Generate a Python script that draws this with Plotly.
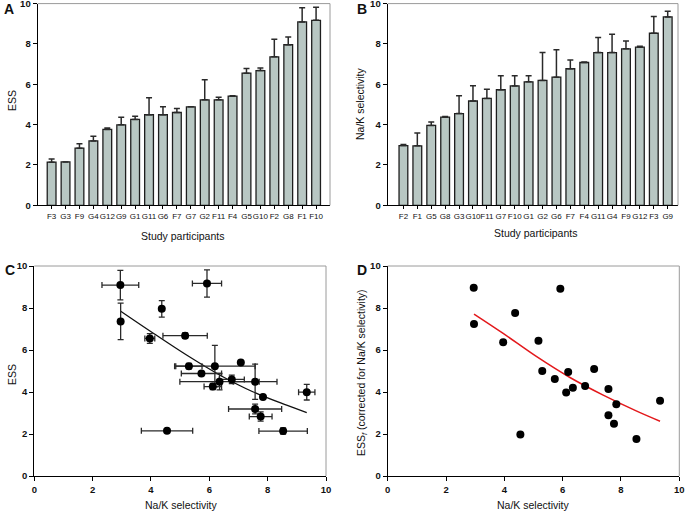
import plotly.graph_objects as go

# ---------------- data ----------------
# Panel A: ESS per participant, sorted ascending
ess_order = ["F3", "G3", "F9", "G4", "G12", "G9", "G1", "G11", "G6", "F7",
             "G7", "G2", "F11", "F4", "G5", "G10", "F2", "G8", "F1", "F10"]
ess_mean = [2.14, 2.15, 2.83, 3.19, 3.76, 3.99, 4.26, 4.49, 4.49, 4.60,
            4.88, 5.23, 5.23, 5.41, 6.55, 6.68, 7.36, 7.96, 9.09, 9.17]
ess_err = [0.15, 0.0, 0.22, 0.23, 0.07, 0.37, 0.15, 0.84, 0.39, 0.20,
           0.0, 0.99, 0.13, 0.02, 0.23, 0.13, 0.87, 0.39, 0.70, 0.65]

# Panel B: Na/K selectivity per participant, sorted ascending
nak_order = ["F2", "F1", "G5", "G8", "G3", "G10", "F11", "G7", "F10", "G1",
             "G2", "G6", "F7", "F4", "G11", "G4", "F9", "G12", "F3", "G9"]
nak_mean = [2.96, 2.95, 3.96, 4.37, 4.55, 5.17, 5.30, 5.73, 5.92, 6.12,
            6.19, 6.35, 6.77, 7.08, 7.57, 7.57, 7.76, 7.84, 8.53, 9.34]
nak_err = [0.05, 0.63, 0.17, 0.03, 0.88, 0.76, 0.45, 0.69, 0.50, 0.30,
           1.38, 1.36, 0.43, 0.02, 0.75, 0.91, 0.39, 0.05, 0.83, 0.28]

# Panel D: corrected ESS (ESS_f), in nak_order
ess_f = [7.24, 8.97, 6.37, 7.76, 1.98, 6.44, 5.00, 4.62, 8.92, 3.98,
         4.95, 4.20, 4.29, 5.10, 4.14, 2.89, 2.49, 3.42, 1.76, 3.58]

# fitted curves
c_fit_x = [2.95, 4.08, 5.22, 6.37, 7.51, 8.65, 9.34]
c_fit_y = [7.86, 6.80, 5.76, 4.80, 4.00, 3.37, 3.02]
d_fit_x = [2.96, 3.96, 5.11, 6.25, 7.39, 8.54, 9.34]
d_fit_y = [7.71, 6.79, 5.68, 4.69, 3.85, 3.09, 2.61]

num_ticks = [0, 2, 4, 6, 8, 10]

# ---------------- build ----------------
W, H = 685, 513
FONT = "Liberation Sans, Arial, Helvetica, sans-serif"
BAR_FILL = "#b8c7c3"
ERR_COL = "#2a2a2a"


def px_x(p):
    return p / W


def px_y(p):
    return 1 - p / H


# C data: pair ESS with Na/K by participant
ess_lookup = {p: (m, e) for p, m, e in zip(ess_order, ess_mean, ess_err)}
c_x = nak_mean
c_xerr = nak_err
c_y = [ess_lookup[p][0] for p in nak_order]
c_yerr = [ess_lookup[p][1] for p in nak_order]

fig = go.Figure()

fig.add_trace(go.Bar(
    x=ess_order, y=ess_mean, xaxis="x", yaxis="y",
    marker=dict(color=BAR_FILL, line=dict(color="#1e1e1e", width=1.3)),
    error_y=dict(type="data", array=ess_err, arrayminus=[0] * len(ess_err),
                 symmetric=False, color=ERR_COL, thickness=1.5, width=3),
    showlegend=False,
))
fig.add_trace(go.Bar(
    x=nak_order, y=nak_mean, xaxis="x2", yaxis="y2",
    marker=dict(color=BAR_FILL, line=dict(color="#1e1e1e", width=1.3)),
    error_y=dict(type="data", array=nak_err, arrayminus=[0] * len(nak_err),
                 symmetric=False, color=ERR_COL, thickness=1.5, width=3),
    showlegend=False,
))
fig.add_trace(go.Scatter(
    x=c_fit_x, y=c_fit_y, xaxis="x3", yaxis="y3", mode="lines",
    line=dict(color="#111", width=1.3, shape="spline"), showlegend=False,
))
fig.add_trace(go.Scatter(
    x=c_x, y=c_y, xaxis="x3", yaxis="y3", mode="markers",
    marker=dict(color="black", size=8),
    error_x=dict(type="data", array=c_xerr, color=ERR_COL, thickness=1.3, width=3),
    error_y=dict(type="data", array=c_yerr, color=ERR_COL, thickness=1.3, width=3),
    showlegend=False,
))
fig.add_trace(go.Scatter(
    x=d_fit_x, y=d_fit_y, xaxis="x4", yaxis="y4", mode="lines",
    line=dict(color="#e3191c", width=1.5, shape="spline"), showlegend=False,
))
fig.add_trace(go.Scatter(
    x=nak_mean, y=ess_f, xaxis="x4", yaxis="y4", mode="markers",
    marker=dict(color="black", size=8), showlegend=False,
))

tickfont_num = dict(family=FONT, size=9.5, color="#111", weight="bold")
tickfont_cat = dict(family=FONT, size=8, color="#111")

common = dict(showline=True, linecolor="black", linewidth=1.2, ticks="outside",
              tickcolor="black", tickwidth=1, showgrid=False, zeroline=False,
              automargin=False, ticklabeloverflow="allow")

domA_x = [px_x(37.7), px_x(330)]
domB_x = [px_x(387.7), px_x(678)]
domC_x = [px_x(34.3), px_x(326)]
domD_x = [px_x(387.7), px_x(679.3)]
dom_top_y = [px_y(205.3), px_y(3.6)]
dom_bot_y = [px_y(476), px_y(266)]

fig.update_layout(
    width=W, height=H,
    margin=dict(l=0, r=0, t=0, b=0, autoexpand=False),
    paper_bgcolor="white", plot_bgcolor="white",
    bargap=0.37,
    font=dict(family=FONT, color="#111"),
    xaxis=dict(domain=domA_x, anchor="y", type="category", range=[-1, 20],
               tickfont=tickfont_cat, tickangle=0, ticklen=3, **common),
    yaxis=dict(domain=dom_top_y, anchor="x", range=[0, 10], tickvals=num_ticks,
               tickfont=tickfont_num, ticklen=4, **common),
    xaxis2=dict(domain=domB_x, anchor="y2", type="category", range=[-1.13, 19.74],
                tickfont=tickfont_cat, tickangle=0, ticklen=3, **common),
    yaxis2=dict(domain=dom_top_y, anchor="x2", range=[0, 10], tickvals=num_ticks,
                tickfont=tickfont_num, ticklen=4, **common),
    xaxis3=dict(domain=domC_x, anchor="y3", range=[0, 10], tickvals=num_ticks,
                tickfont=tickfont_num, ticklen=4, **common),
    yaxis3=dict(domain=dom_bot_y, anchor="x3", range=[0, 10], tickvals=num_ticks,
                tickfont=tickfont_num, ticklen=4, **common),
    xaxis4=dict(domain=domD_x, anchor="y4", range=[0, 10], tickvals=num_ticks,
                tickfont=tickfont_num, ticklen=4, **common),
    yaxis4=dict(domain=dom_bot_y, anchor="x4", range=[0, 10], tickvals=num_ticks,
                tickfont=tickfont_num, ticklen=4, **common),
)

# gray top/right frame lines
shapes = []
for xd, yd in [(domA_x, dom_top_y), (domB_x, dom_top_y),
               (domC_x, dom_bot_y), (domD_x, dom_bot_y)]:
    shapes.append(dict(type="line", xref="paper", yref="paper",
                       x0=xd[0], x1=xd[1], y0=yd[1], y1=yd[1],
                       line=dict(color="#9a9a9a", width=1)))
    shapes.append(dict(type="line", xref="paper", yref="paper",
                       x0=xd[1], x1=xd[1], y0=yd[0], y1=yd[1],
                       line=dict(color="#9a9a9a", width=1)))
fig.update_layout(shapes=shapes)

ann = []


def add_text(text, x, y, size, bold=False, angle=0):
    ann.append(dict(text=text, x=px_x(x), y=px_y(y), xref="paper", yref="paper",
                    showarrow=False, textangle=angle, xanchor="center",
                    yanchor="middle",
                    font=dict(family=FONT, size=size, color="#111",
                              weight="bold" if bold else "normal")))


# panel letters
add_text("A", 9, 9, 14, bold=True)
add_text("B", 362, 9, 14, bold=True)
add_text("C", 10, 270, 14, bold=True)
add_text("D", 362, 270, 14, bold=True)
# axis titles
add_text("ESS", 12, 101, 10.5, angle=-90)
add_text("Study participants", 182, 236, 10.5)
add_text("Na/K selectivity", 360, 104, 10.5, angle=-90)
add_text("Study participants", 535, 233, 10.5)
add_text("ESS", 12, 375, 10.5, angle=-90)
add_text("Na/K selectivity", 181, 505, 10.5)
add_text("ESS<sub><i>f</i></sub> (corrected for Na/K selectivity)", 362, 373, 10.5, angle=-90)
add_text("Na/K selectivity", 533, 505, 10.5)
fig.update_layout(annotations=ann)

fig.write_html(
    "out.html",
    config={"displayModeBar": False},
    post_script="document.body.style.margin='0';document.body.style.overflow='hidden';",
)
